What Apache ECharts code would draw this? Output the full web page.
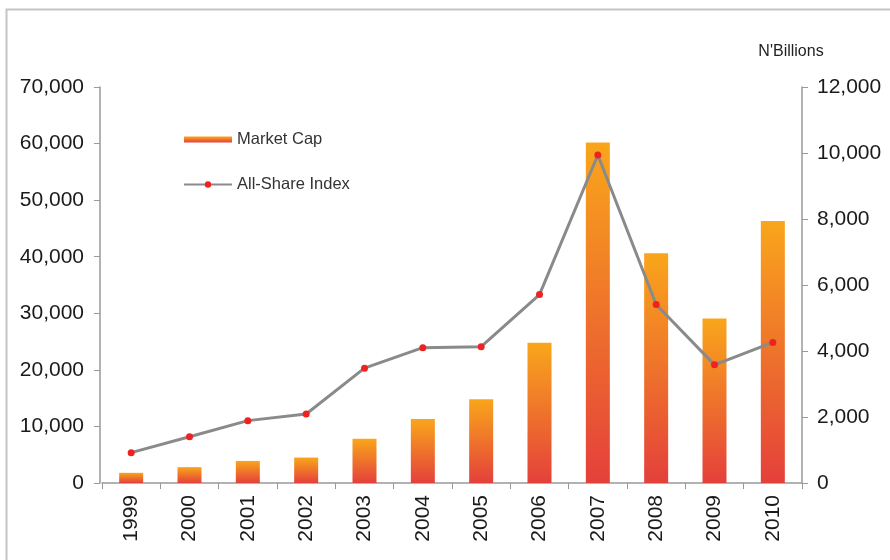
<!DOCTYPE html>
<html>
<head>
<meta charset="utf-8">
<script src="https://cdn.jsdelivr.net/npm/echarts@6/dist/echarts.min.js"></script>
<style>
  html, body { margin: 0; padding: 0; background: #fff; }
  #chart { width: 890px; height: 560px; }
</style>
</head>
<body>
<div id="chart"></div>
<script>
// Years on the category axis
const years = ['1999', '2000', '2001', '2002', '2003', '2004', '2005', '2006', '2007', '2008', '2009', '2010'];
// Market capitalisation (left axis)
const marketCap = [1800, 2800, 3900, 4500, 7800, 11300, 14800, 24800, 60200, 40600, 29100, 46300];
// All-Share Index (right axis)
const allShareIndex = [920, 1400, 1890, 2090, 3480, 4100, 4130, 5710, 9940, 5410, 3580, 4260];
// Axis ranges
const leftMax = 70000, leftStep = 10000;
const rightMax = 12000, rightStep = 2000;

const chart = echarts.init(document.getElementById('chart'), null, { renderer: 'canvas' });

const barGradient = new echarts.graphic.LinearGradient(0, 0, 0, 1, [
  { offset: 0, color: '#F9A61B' },
  { offset: 1, color: '#E4403B' }
]);

const axisLabelStyle = { color: '#1a1a1a', fontFamily: 'Liberation Sans, Arial, sans-serif', fontSize: 21 };
const axisLineStyle = { show: true, lineStyle: { color: '#999', width: 1.5 } };
const axisTickStyle = { show: true, length: 6, lineStyle: { color: '#999' } };
const thousands = v => v.toLocaleString('en-US');

chart.setOption({
  animation: false,
  backgroundColor: '#fff',
  graphic: [{
    type: 'rect',
    shape: { x: 6.5, y: 9.5, width: 900, height: 600 },
    style: { fill: 'none', stroke: '#c4c4c4', lineWidth: 2 },
    silent: true
  }],
  grid: { left: 102, right: 88, top: 87, bottom: 77 },
  legend: {
    orient: 'vertical',
    left: 178,
    top: 126,
    itemGap: 28,
    itemWidth: 48,
    itemHeight: 8,
    textStyle: { color: '#333', fontFamily: 'Liberation Sans, Arial, sans-serif', fontSize: 16.5 },
    data: [
      { name: 'Market Cap', icon: 'path://M0,0 L48,0 L48,6 L0,6 Z', itemStyle: { color: barGradient } },
      { name: 'All-Share Index' }
    ]
  },
  xAxis: {
    type: 'category',
    data: years,
    boundaryGap: true,
    axisLine: axisLineStyle,
    axisTick: axisTickStyle,
    axisLabel: Object.assign({ rotate: 90, margin: 12, interval: 0 }, axisLabelStyle),
    splitLine: { show: false }
  },
  yAxis: [{
    type: 'value',
    min: 0,
    max: leftMax,
    interval: leftStep,
    position: 'left',
    offset: 2,
    axisLine: axisLineStyle,
    axisTick: axisTickStyle,
    axisLabel: Object.assign({ margin: 16, formatter: thousands }, axisLabelStyle),
    splitLine: { show: false }
  }, {
    type: 'value',
    min: 0,
    max: rightMax,
    interval: rightStep,
    position: 'right',
    name: "N'Billions",
    nameLocation: 'end',
    nameGap: 27,
    nameTextStyle: { color: '#222', fontFamily: 'Liberation Sans, Arial, sans-serif', fontSize: 16, align: 'center', padding: [0, 22, 0, 0] },
    axisLine: axisLineStyle,
    axisTick: axisTickStyle,
    axisLabel: Object.assign({ margin: 15, formatter: thousands }, axisLabelStyle),
    splitLine: { show: false }
  }],
  series: [{
    name: 'Market Cap',
    type: 'bar',
    yAxisIndex: 0,
    data: marketCap,
    barWidth: 24,
    itemStyle: { color: barGradient }
  }, {
    name: 'All-Share Index',
    type: 'line',
    yAxisIndex: 1,
    data: allShareIndex,
    symbol: 'circle',
    symbolSize: 7,
    lineStyle: { color: '#8a8a8a', width: 3 },
    itemStyle: { color: '#EE2320' },
    z: 5
  }]
});
</script>
</body>
</html>
